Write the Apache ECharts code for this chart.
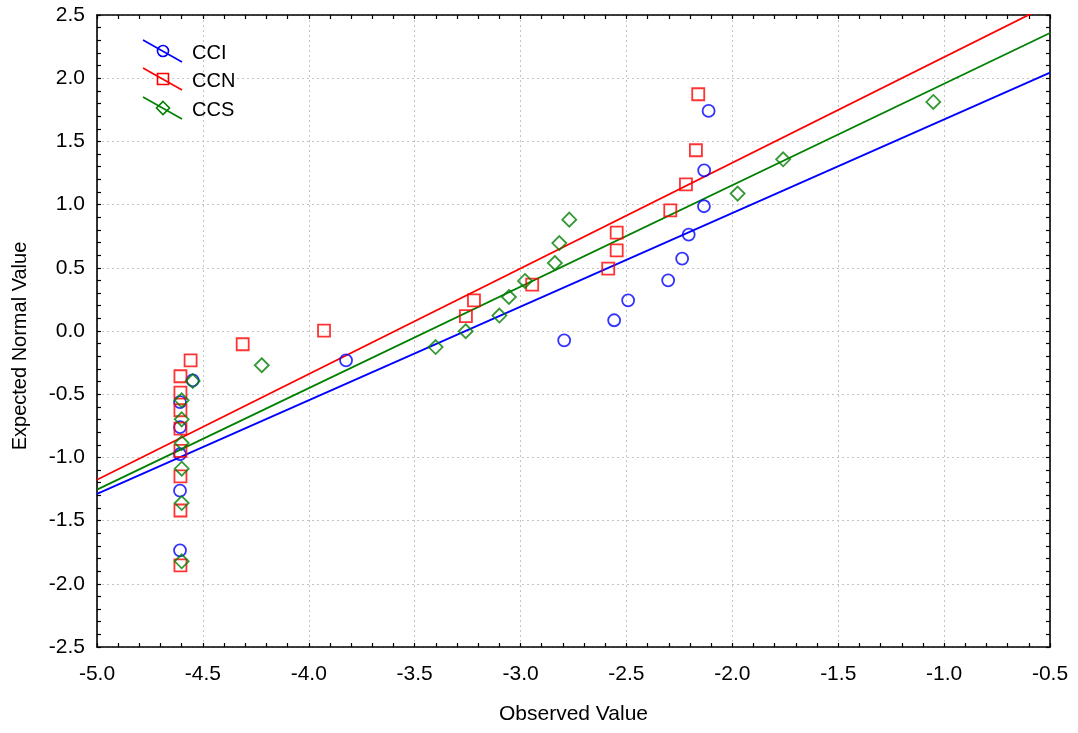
<!DOCTYPE html>
<html>
<head>
<meta charset="utf-8">
<script src="https://cdn.jsdelivr.net/npm/echarts@6/dist/echarts.min.js"></script>
<style>
html,body{margin:0;padding:0;background:#fff;}
#chart{width:1078px;height:733px;}
</style>
</head>
<body>
<div id="chart"></div>
<script>
// ---- data ----
var seriesNames = ['CCI', 'CCN', 'CCS'];
var cciX = [-4.608,-4.608,-4.608,-4.608,-4.608,-4.548,-3.824,-2.794,-2.558,-2.492,-2.303,-2.237,-2.206,-2.134,-2.133,-2.112];
var cciY = [-1.735,-1.263,-0.975,-0.760,-0.562,-0.390,-0.232,-0.074,0.085,0.243,0.401,0.573,0.763,0.987,1.271,1.741];
var ccnX = [-4.606,-4.606,-4.606,-4.606,-4.606,-4.606,-4.606,-4.606,-4.558,-4.312,-3.928,-3.258,-3.220,-2.945,-2.586,-2.546,-2.546,-2.293,-2.219,-2.172,-2.161];
var ccnY = [-1.854,-1.420,-1.150,-0.949,-0.772,-0.627,-0.487,-0.358,-0.232,-0.105,0.003,0.117,0.243,0.367,0.494,0.638,0.778,0.955,1.160,1.430,1.873];
var ccsX = [-4.600,-4.600,-4.600,-4.600,-4.600,-4.600,-4.548,-4.222,-3.401,-3.259,-3.100,-3.055,-2.979,-2.838,-2.817,-2.770,-1.975,-1.760,-1.051];
var ccsY = [-1.822,-1.361,-1.089,-0.886,-0.699,-0.548,-0.396,-0.271,-0.127,-0.002,0.122,0.269,0.396,0.538,0.696,0.881,1.087,1.358,1.812];
// fitted lines (endpoints)
var fitX = [-5.0, -0.5];
var cciFitY = [-1.289, 2.044];
var ccnFitY = [-1.177, 2.585];
var ccsFitY = [-1.255, 2.358];
// axes
var xMin = -5.0, xMax = -0.5, xStep = 0.5;
var yMin = -2.5, yMax = 2.5, yStep = 0.5;
var xTitle = 'Observed Value';
var yTitle = 'Expected Normal Value';

function zip(xs, ys){ return xs.map(function(x,i){ return [x, ys[i]]; }); }

var FONT = "'Liberation Sans', Arial, sans-serif";
var colors = ['#0000ff', '#ff0000', '#008000'];
var symbols = ['circle', 'rect', 'diamond'];
var symSizes = [12, 12, 14];

function axisCommon(extra){
  var base = {
    axisLine: {show: true, onZero: false, lineStyle: {color: '#000', width: 1.6}},
    axisTick: {show: true, inside: true, length: 4, lineStyle: {color: '#000', width: 1.2}},
    minorTick: {show: true, splitNumber: 5, length: 4, lineStyle: {color: '#000', width: 1.2}},
    splitLine: {show: false},
    axisLabel: {show: false}
  };
  for (var k in extra) base[k] = extra[k];
  return base;
}

var fmt = function(v){ return v.toFixed(1); };

var option = {
  animation: false,
  backgroundColor: '#fff',
  grid: {left: 97, right: 28, top: 15, bottom: 86, containLabel: false, outerBoundsMode: 'none'},
  xAxis: [
    axisCommon({
      type: 'value', min: xMin, max: xMax, interval: xStep, position: 'bottom',
      name: xTitle, nameLocation: 'middle', nameGap: 57,
      nameTextStyle: {fontFamily: FONT, fontSize: 21, color: '#000'},
      axisLabel: {show: true, formatter: fmt, margin: 17, fontFamily: FONT, fontSize: 21, color: '#000'},
      splitLine: {show: true, lineStyle: {color: '#c4c4c4', type: [2, 3], width: 1}}
    }),
    axisCommon({type: 'value', min: xMin, max: xMax, interval: xStep, position: 'top'})
  ],
  yAxis: [
    axisCommon({
      type: 'value', min: yMin, max: yMax, interval: yStep, position: 'left',
      name: yTitle, nameLocation: 'middle', nameGap: 67,
      nameTextStyle: {fontFamily: FONT, fontSize: 20, color: '#000', padding: [0, 30, 0, 0]},
      axisLabel: {show: true, formatter: fmt, margin: 12, fontFamily: FONT, fontSize: 21, color: '#000'},
      splitLine: {show: true, lineStyle: {color: '#c4c4c4', type: [2, 3], width: 1}}
    }),
    axisCommon({type: 'value', min: yMin, max: yMax, interval: yStep, position: 'right'})
  ],
  series: [],
  graphic: []
};

var pts = [zip(cciX, cciY), zip(ccnX, ccnY), zip(ccsX, ccsY)];
var fits = [zip(fitX, cciFitY), zip(fitX, ccnFitY), zip(fitX, ccsFitY)];

for (var i = 0; i < 3; i++){
  option.series.push({
    name: seriesNames[i] + ' fit', type: 'line', data: fits[i], showSymbol: false, symbol: 'none',
    clip: true, silent: true, z: 2,
    lineStyle: {color: colors[i], width: 1.8}
  });
}
for (var j = 0; j < 3; j++){
  option.series.push({
    name: seriesNames[j], type: 'scatter', data: pts[j], symbol: symbols[j], symbolSize: symSizes[j],
    z: 3,
    itemStyle: {color: 'rgba(0,0,0,0)', borderColor: colors[j], borderWidth: 1.8}
  });
}

// legend drawn as graphics (diagonal line with marker, as in the reference)
var legY = [51, 79, 108];
for (var k = 0; k < 3; k++){
  var cy = legY[k], cx = 163;
  option.graphic.push({type: 'line', shape: {x1: 143, y1: cy - 11, x2: 182, y2: cy + 11},
    style: {stroke: colors[k], lineWidth: 1.6}, z: 10});
  var mk;
  if (k === 0) mk = {type: 'circle', shape: {cx: cx, cy: cy, r: 5.5}};
  else if (k === 1) mk = {type: 'rect', shape: {x: cx - 5.5, y: cy - 5.5, width: 11, height: 11}};
  else mk = {type: 'polygon', shape: {points: [[cx, cy - 6.5], [cx + 6.5, cy], [cx, cy + 6.5], [cx - 6.5, cy]]}};
  mk.style = {fill: 'none', stroke: colors[k], lineWidth: 1.6};
  mk.z = 11;
  option.graphic.push(mk);
  option.graphic.push({type: 'text', x: 192, y: cy + 2, style: {text: seriesNames[k], fontFamily: FONT, fontSize: 20,
    fill: '#000', textVerticalAlign: 'middle', verticalAlign: 'middle'}, z: 11});
}

var chart = echarts.init(document.getElementById('chart'), null, {renderer: 'canvas'});
chart.setOption(option);
</script>
</body>
</html>
